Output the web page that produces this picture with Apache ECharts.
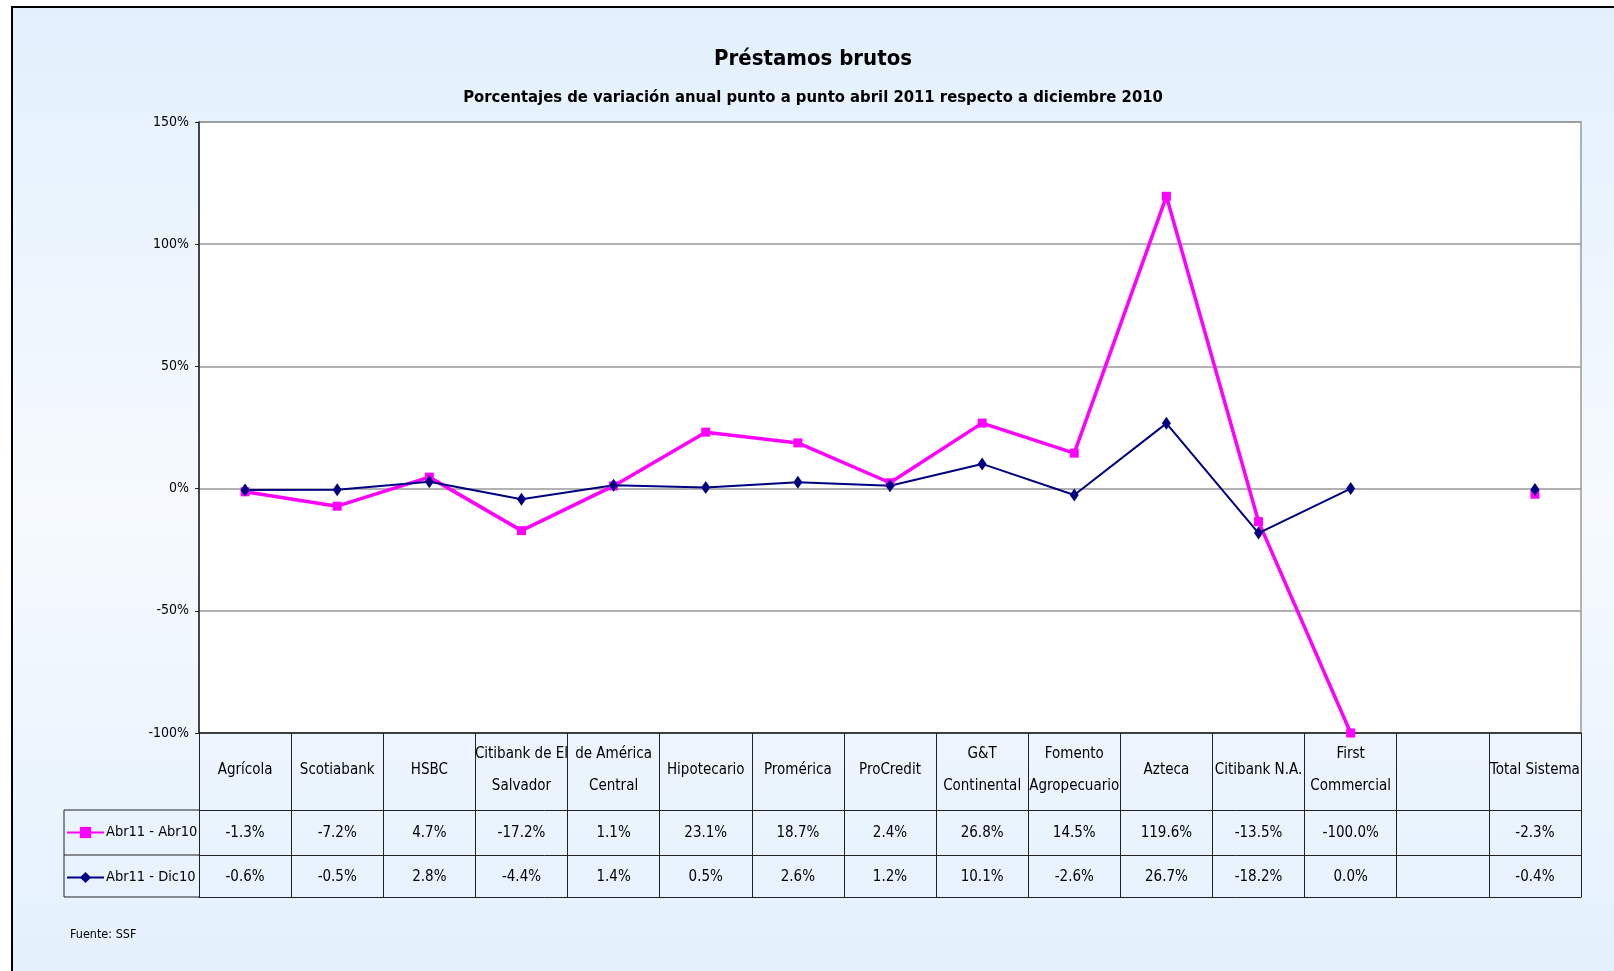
<!DOCTYPE html>
<html>
<head>
<meta charset="utf-8">
<script src="https://cdn.jsdelivr.net/npm/echarts@6/dist/echarts.min.js"></script>
<style>
  html, body { margin: 0; padding: 0; background: #fff; }
  #chart { width: 1614px; height: 971px; }
</style>
</head>
<body>
<div id="chart"></div>
<script>
// datos de la tabla
const categories = ['Agrícola', 'Scotiabank', 'HSBC', 'Citibank de El\nSalvador', 'de América\nCentral', 'Hipotecario', 'Promérica', 'ProCredit', 'G&T\nContinental', 'Fomento\nAgropecuario', 'Azteca', 'Citibank N.A.', 'First\nCommercial', '', 'Total Sistema'];
const abrAbr = [-1.3, -7.2, 4.7, -17.2, 1.1, 23.1, 18.7, 2.4, 26.8, 14.5, 119.6, -13.5, -100.0, null, -2.3];
const abrDic = [-0.6, -0.5, 2.8, -4.4, 1.4, 0.5, 2.6, 1.2, 10.1, -2.6, 26.7, -18.2, 0.0, null, -0.4];
const seriesNames = ['Abr11 - Abr10', 'Abr11 - Dic10'];
const yTicks = { min: -100, max: 150, interval: 50 };

const FONT = "'Liberation Sans Narrow', 'DejaVu Sans Condensed', 'Arial Narrow', sans-serif";
const TABLE_FS = 15;

const chart = echarts.init(document.getElementById('chart'));

const fmt = (v) => (v === null || v === undefined) ? '' : v.toFixed(1) + '%';

// posiciones de la tabla
const gridLeft = 199, gridRight = 1581, gridTop = 122, gridBottom = 733;
const row1 = 810, row2 = 855, row3 = 897;
const legendLeft = 64;

const rowAxis = (offset, values, margin) => ({
  type: 'category',
  position: 'bottom',
  data: categories,
  offset: offset,
  axisLine: { show: true, onZero: false, lineStyle: { color: '#222', width: 1 } },
  axisTick: { show: false },
  axisLabel: values ? {
    interval: 0,
    margin: margin,
    verticalAlign: 'middle',
    fontSize: TABLE_FS,
    fontFamily: FONT,
    color: '#000',
    formatter: (val, i) => fmt(values[i])
  } : { show: false }
});

const option = {
  animation: false,
  backgroundColor: '#fff',
  graphic: [
    {
      type: 'rect',
      z: -10,
      shape: { x: 12, y: 7, width: 1640, height: 1000 },
      style: {
        fill: new echarts.graphic.LinearGradient(0, 0, 0, 1, [
          { offset: 0, color: '#e2f0fd' },
          { offset: 0.5, color: '#f6fafe' },
          { offset: 1, color: '#e2f0fd' }
        ]),
        stroke: '#000',
        lineWidth: 2
      }
    },
    {
      type: 'text',
      x: 813, y: 59,
      style: { text: 'Préstamos brutos', textAlign: 'center', textVerticalAlign: 'middle', font: "bold 22px " + FONT, fill: '#000' }
    },
    {
      type: 'text',
      x: 813, y: 98,
      style: { text: 'Porcentajes de variación anual punto a punto abril 2011 respecto a diciembre 2010', textAlign: 'center', textVerticalAlign: 'middle', font: "bold 16.5px " + FONT, fill: '#000' }
    },
    {
      type: 'text',
      x: 70, y: 935,
      style: { text: 'Fuente: SSF', textVerticalAlign: 'middle', font: "12.5px " + FONT, fill: '#000' }
    },
    // columna de leyenda
    { type: 'line', shape: { x1: legendLeft, y1: row1, x2: gridLeft, y2: row1 }, style: { stroke: '#222', lineWidth: 1 } },
    { type: 'line', shape: { x1: legendLeft, y1: row2, x2: gridLeft, y2: row2 }, style: { stroke: '#222', lineWidth: 1 } },
    { type: 'line', shape: { x1: legendLeft, y1: row3, x2: gridLeft, y2: row3 }, style: { stroke: '#222', lineWidth: 1 } },
    { type: 'line', shape: { x1: legendLeft, y1: row1, x2: legendLeft, y2: row3 }, style: { stroke: '#222', lineWidth: 1 } }
  ],
  legend: {
    orient: 'vertical',
    left: 66,
    top: 825,
    itemWidth: 37,
    itemHeight: 14,
    itemGap: 30,
    padding: 0,
    data: seriesNames,
    textStyle: { fontSize: 14.5, lineHeight: 14, fontFamily: FONT, color: '#000', padding: [0, 0, 0, -3] }
  },
  grid: {
    left: gridLeft,
    right: 1614 - gridRight,
    top: gridTop,
    bottom: 971 - gridBottom,
    show: true,
    backgroundColor: '#fff',
    borderColor: '#999',
    borderWidth: 1.5
  },
  xAxis: [
    {
      type: 'category',
      position: 'bottom',
      data: categories,
      boundaryGap: true,
      axisLine: { show: true, onZero: false, lineStyle: { color: '#222', width: 1.5 } },
      axisTick: { show: true, interval: 0, length: row3 - gridBottom, lineStyle: { color: '#222', width: 1 } },
      axisLabel: {
        interval: 0,
        margin: 37,
        verticalAlign: 'middle',
        fontSize: TABLE_FS,
        lineHeight: 32,
        fontFamily: FONT,
        color: '#000'
      }
    },
    rowAxis(row1 - gridBottom, abrAbr, 23),
    rowAxis(row2 - gridBottom, abrDic, 22),
    rowAxis(row3 - gridBottom, null, 0)
  ],
  yAxis: {
    type: 'value',
    min: yTicks.min,
    max: yTicks.max,
    interval: yTicks.interval,
    axisLine: { show: true, lineStyle: { color: '#222', width: 1.5 } },
    axisTick: { show: true, length: 4, lineStyle: { color: '#222' } },
    axisLabel: { formatter: '{value}%', fontSize: 14, fontFamily: FONT, color: '#000', margin: 10 },
    splitLine: { show: true, lineStyle: { color: '#999', width: 1.5 } }
  },
  series: [
    {
      name: seriesNames[0],
      type: 'line',
      data: abrAbr,
      connectNulls: false,
      symbol: 'rect',
      symbolSize: 9,
      color: '#ff00ff',
      lineStyle: { width: 3.5, color: '#ff00ff' },
      itemStyle: { color: '#ff00ff' }
    },
    {
      name: seriesNames[1],
      type: 'line',
      data: abrDic,
      connectNulls: false,
      symbol: 'diamond',
      symbolSize: [9, 13],
      color: '#000080',
      lineStyle: { width: 2, color: '#000080' },
      itemStyle: { color: '#000080' }
    }
  ]
};

chart.setOption(option);
</script>
</body>
</html>
